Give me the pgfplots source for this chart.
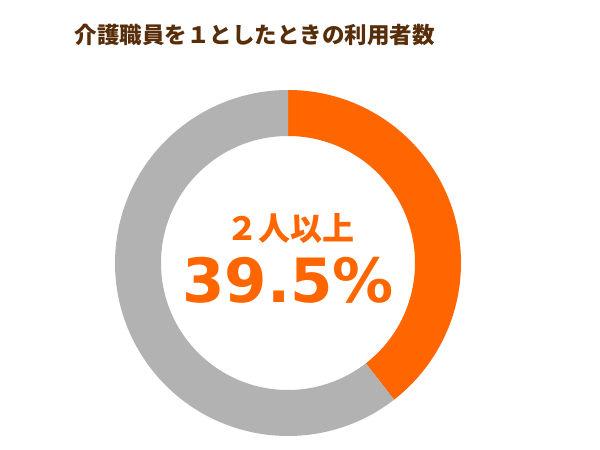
\documentclass[border=0pt]{standalone}
\usepackage{pgfplots}
\usepackage{pgfplotstable}
\pgfplotsset{compat=1.18}
\usetikzlibrary{calc}
\usepackage{fontspec}
\setmainfont{DejaVu Sans}
\newfontfamily\cjk{Noto Sans CJK JP}

\definecolor{titlebrown}{RGB}{88,46,10}
\definecolor{accentorange}{RGB}{255,102,0}
\definecolor{ringgray}{RGB}{178,178,178}

% share of users per care worker
\pgfplotstableread{
group value
two_or_more 39.5
other 60.5
}\sharetable

\begin{document}
\begin{tikzpicture}
\path[use as bounding box] (0,0) rectangle (600bp,450bp);

\pgfplotstablegetelem{0}{value}\of\sharetable
\let\shareA\pgfplotsretval
\pgfplotstablegetelem{1}{value}\of\sharetable
\let\shareB\pgfplotsretval

\begin{axis}[
  at={(115bp,14bp)}, anchor=south west,
  scale only axis, width=346bp, height=346bp,
  xmin=-1, xmax=1, ymin=-1, ymax=1,
  hide axis, clip=false
]
\pgfmathsetmacro{\angA}{90-3.6*\shareA}
\pgfmathsetmacro{\angB}{\angA-3.6*\shareB}
\fill[accentorange] (axis cs:0,1) arc[start angle=90, end angle=\angA, radius=173bp]
  -- ($(axis cs:0,0)+(\angA:127bp)$) arc[start angle=\angA, end angle=90, radius=127bp] -- cycle;
\fill[ringgray] ($(axis cs:0,0)+(\angA:173bp)$) arc[start angle=\angA, end angle=\angB, radius=173bp]
  -- ($(axis cs:0,0)+(\angB:127bp)$) arc[start angle=\angB, end angle=\angA, radius=127bp] -- cycle;
\end{axis}

\node[text=titlebrown, font=\cjk\bfseries\fontsize{22.5bp}{26bp}\selectfont] at (254.5bp,415bp) {介護職員を１としたときの利用者数};
\node[text=accentorange, font=\cjk\bfseries\fontsize{32bp}{36bp}\selectfont] at (290bp,221bp) {２人以上};
\node[text=accentorange, font=\bfseries\fontsize{61bp}{66bp}\selectfont] at (288bp,170bp) {39.5\%};
\end{tikzpicture}
\end{document}
